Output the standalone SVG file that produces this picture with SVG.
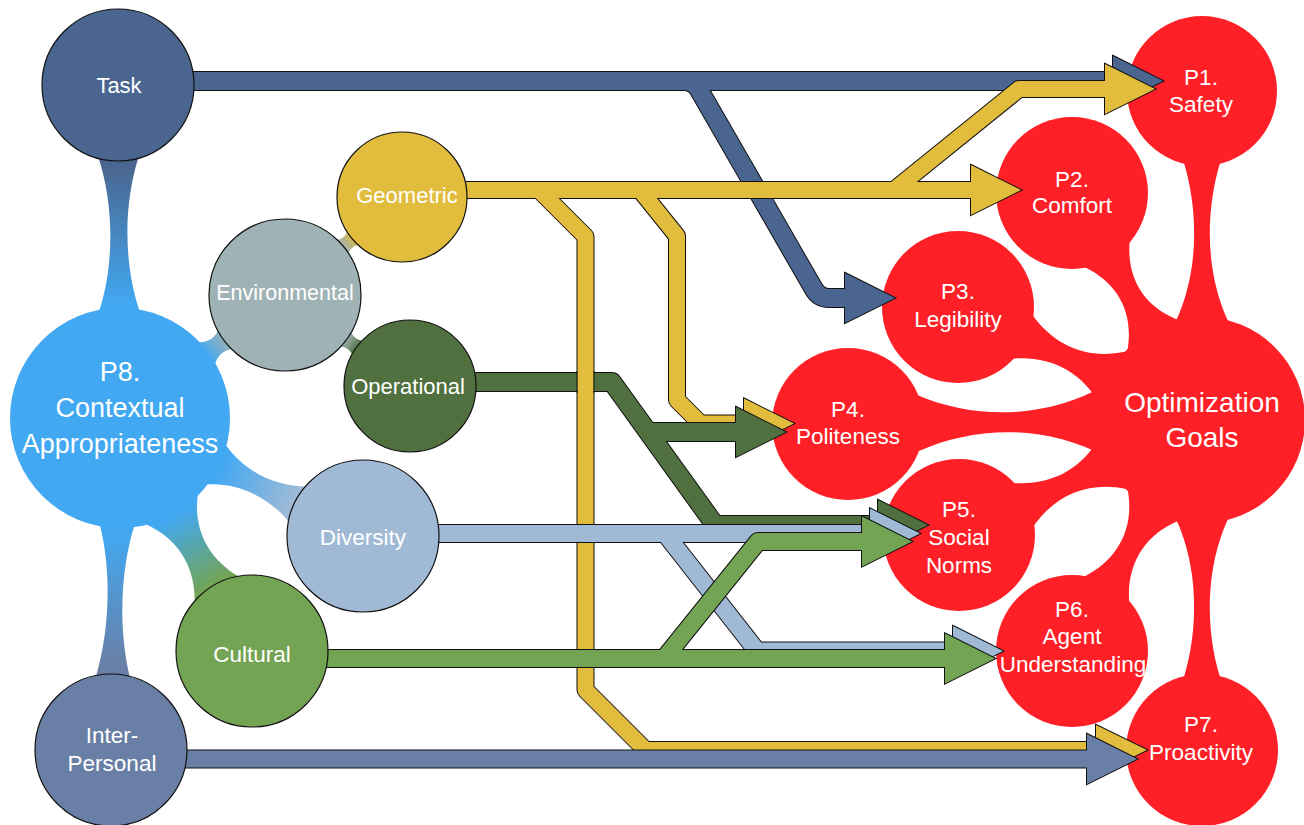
<svg xmlns="http://www.w3.org/2000/svg" width="1304" height="825" viewBox="0 0 1304 825">
<defs>
<style>
text { font-family: "Liberation Sans", Arial, sans-serif; fill: #ffffff; text-anchor: middle; }
.fs { font-size: 22.5px; }
.fm { font-size: 22px; }
.fe { font-size: 21.5px; }
.fb { font-size: 27px; }
.fo { font-size: 28px; }
.red { fill: #FE1F27; }
.src { stroke: #111111; stroke-width: 1.2; }
.ol { fill: none; stroke: #111111; stroke-linejoin: round; }
.ln { fill: none; stroke-linejoin: round; }
.ah { stroke: #111111; stroke-width: 2; stroke-linejoin: miter; }
</style>
<linearGradient id="gTask" gradientUnits="userSpaceOnUse" x1="80" y1="0" x2="220" y2="0"><stop offset="0" stop-color="#4A6690"/><stop offset="1" stop-color="#42A8F2"/></linearGradient>
<linearGradient id="gIP" gradientUnits="userSpaceOnUse" x1="80" y1="0" x2="220" y2="0"><stop offset="0" stop-color="#6A7FA5"/><stop offset="1" stop-color="#42A8F2"/></linearGradient>
<linearGradient id="gEnv" gradientUnits="userSpaceOnUse" x1="106" y1="0" x2="134" y2="0"><stop offset="0" stop-color="#42A8F2"/><stop offset="1" stop-color="#9FB2B5"/></linearGradient>
<linearGradient id="gDiv" gradientUnits="userSpaceOnUse" x1="112" y1="0" x2="194" y2="0"><stop offset="0" stop-color="#42A8F2"/><stop offset="1" stop-color="#A0BAD5"/></linearGradient>
<linearGradient id="gCul" gradientUnits="userSpaceOnUse" x1="112" y1="0" x2="192" y2="0"><stop offset="0" stop-color="#42A8F2"/><stop offset="1" stop-color="#73A454"/></linearGradient>
<linearGradient id="gGeo" gradientUnits="userSpaceOnUse" x1="75" y1="0" x2="89" y2="0"><stop offset="0" stop-color="#9FB2B5"/><stop offset="1" stop-color="#D8BA48"/></linearGradient>
<linearGradient id="gOps" gradientUnits="userSpaceOnUse" x1="75" y1="0" x2="90" y2="0"><stop offset="0" stop-color="#9FB2B5"/><stop offset="1" stop-color="#50703F"/></linearGradient>
</defs>
<rect x="0" y="0" width="1304" height="825" fill="#ffffff"/>

<g id="connectors-hub">
  <g id="links-optimization" class="red">
    <path transform="translate(1202,91) rotate(90)" d="M72,-18 C121,-3.3 181,-3.3 230,-26 L230,26 C181,3.3 121,3.3 72,18 Z"/>
    <path transform="translate(1202,750) rotate(-90)" d="M73,-18 C121,-3.3 182,-3.3 231,-26 L231,26 C182,3.3 121,3.3 73,18 Z"/>
    <path transform="translate(1072,193) rotate(60.2)" d="M70.5,-26 C101,-5.3 134,-5.3 164,-30 L164,30 C134,5.3 101,5.3 70.5,26 Z"/>
    <path transform="translate(958,307) rotate(24.8)" d="M71,-24 C103,-5.7 139,-5.7 171,-30 L171,30 C139,5.7 103,5.7 71,24 Z"/>
    <path transform="translate(848,424) rotate(-0.65)" d="M70,-28 C128,-2.7 199,-2.7 258,-36 L258,36 C199,2.7 128,2.7 70,28 Z"/>
    <path transform="translate(959,535) rotate(-25.3)" d="M71,-24 C103,-5.7 139,-5.7 171,-30 L171,30 C139,5.7 103,5.7 71,24 Z"/>
    <path transform="translate(1072,651) rotate(-60.6)" d="M70.5,-26 C101,-5.3 137,-5.3 167,-30 L167,30 C137,5.3 101,5.3 70.5,26 Z"/>
  </g>
  <g id="links-context">
    <path fill="url(#gTask)" transform="translate(118,85) rotate(89.66)" d="M72.5,-20 C120,-4.7 179,-4.7 225.5,-20 L225.5,20 C179,4.7 120,4.7 72.5,20 Z"/>
    <path fill="url(#gIP)" transform="translate(111,750) rotate(-88.45)" d="M73,-17 C120,-4.3 178,-4.3 224,-17 L224,17 C178,4.3 120,4.3 73,17 Z"/>
    <path fill="url(#gEnv)" transform="translate(120,418) rotate(-36.7)" d="M108,-14 C116,-7.7 124,-7.7 132,-12 L132,12 C124,7.7 116,7.7 108,14 Z"/>
    <path fill="url(#gDiv)" transform="translate(120,418) rotate(25.9)" d="M107,-22 C135,-6.3 169,-6.3 198,-20 L198,20 C169,6.3 135,6.3 107,22 Z"/>
    <path fill="url(#gCul)" transform="translate(120,418) rotate(60.5)" d="M105,-30 C134,-8 168,-8 197.5,-26 L197.5,26 C168,8 134,8 105,30 Z"/>
    <path fill="url(#gGeo)" transform="translate(285,295) rotate(-39.9)" d="M74.5,-10 C78,-6.1 84,-6.1 89,-9 L89,9 C84,6.1 78,6.1 74.5,10 Z"/>
    <path fill="url(#gOps)" transform="translate(285,295) rotate(36.05)" d="M74.5,-10 C78.5,-6 85.5,-6 90,-9 L90,9 C85.5,6 78.5,6 74.5,10 Z"/>
  </g>
</g>

<g id="node-optimization">
  <circle class="red" cx="1202" cy="420" r="103"/>
  <text class="fo" x="1202" y="412">Optimization</text>
  <text class="fo" x="1202" y="447">Goals</text>
</g>
<g id="node-p1">
  <circle class="red" cx="1202" cy="91" r="75"/>
  <text class="fs" x="1201" y="85">P1.</text>
  <text class="fs" x="1201" y="112">Safety</text>
</g>
<g id="node-p2">
  <circle class="red" cx="1072" cy="193" r="76"/>
  <text class="fs" x="1072" y="187">P2.</text>
  <text class="fs" x="1072" y="213">Comfort</text>
</g>
<g id="node-p3">
  <circle class="red" cx="958" cy="307" r="76"/>
  <text class="fs" x="958" y="299">P3.</text>
  <text class="fs" x="958" y="327">Legibility</text>
</g>
<g id="node-p4">
  <circle class="red" cx="848" cy="424" r="76"/>
  <text class="fs" x="848" y="417">P4.</text>
  <text class="fs" x="848" y="444">Politeness</text>
</g>
<g id="node-p5">
  <circle class="red" cx="959" cy="535" r="76"/>
  <text class="fs" x="959" y="517">P5.</text>
  <text class="fs" x="959" y="545">Social</text>
  <text class="fs" x="959" y="573">Norms</text>
</g>
<g id="node-p6">
  <circle class="red" cx="1072" cy="651" r="76"/>
  <text class="fs" x="1072" y="617">P6.</text>
  <text class="fs" x="1072" y="644">Agent</text>
  <text class="fs" x="1073" y="672">Understanding</text>
</g>
<g id="node-p7">
  <circle class="red" cx="1202" cy="750" r="76"/>
  <text class="fs" x="1201" y="732">P7.</text>
  <text class="fs" x="1201" y="760">Proactivity</text>
</g>
<g id="node-p8">
  <circle cx="120" cy="418" r="110" fill="#42A8F2"/>
  <text class="fb" x="120" y="381">P8.</text>
  <text class="fb" x="120" y="417">Contextual</text>
  <text class="fb" x="120" y="453">Appropriateness</text>
</g>

<g id="connectors-flows">
  <g id="flow-task">
    <path class="ol" stroke-width="20" d="M150,81 H1116 M660,81 H684 Q694,81 699,89.7 L814,289.3 Q819,298 829,298 H848"/>
    <polygon class="ah" fill="#111111" points="1113,56 1163,81 1113,106"/>
    <polygon class="ah" fill="#111111" points="845,273 895,298 845,323"/>
    <path class="ln" stroke="#4A6690" stroke-width="18" d="M150,81 H1116 M660,81 H684 Q694,81 699,89.7 L814,289.3 Q819,298 829,298 H848"/>
    <polygon fill="#4A6690" points="1113,56 1163,81 1113,106"/>
    <polygon fill="#4A6690" points="845,273 895,298 845,323"/>
  </g>
  <g id="flow-geometric">
    <path class="ol" stroke-width="18" d="M440,190 H974 M894,190 L1019,89 H1108 M539,190 L585.5,236.5 V690 L645.5,750 H1099 M640,190 L677,236 V400 L700.5,423.5 H747"/>
    <polygon class="ah" fill="#111111" points="971,165 1021,190 971,215"/>
    <polygon class="ah" fill="#111111" points="1105,64 1155,89 1105,114"/>
    <polygon class="ah" fill="#111111" points="1096,725 1147,750 1096,775"/>
    <polygon class="ah" fill="#111111" points="744,398.5 794,423.5 744,448.5"/>
    <path class="ln" stroke="#E2BC3C" stroke-width="16" d="M440,190 H974 M894,190 L1019,89 H1108 M539,190 L585.5,236.5 V690 L645.5,750 H1099 M640,190 L677,236 V400 L700.5,423.5 H747"/>
    <polygon fill="#E2BC3C" points="971,165 1021,190 971,215"/>
    <polygon fill="#E2BC3C" points="1105,64 1155,89 1105,114"/>
    <polygon fill="#E2BC3C" points="1096,725 1147,750 1096,775"/>
    <polygon fill="#E2BC3C" points="744,398.5 794,423.5 744,448.5"/>
  </g>
  <g id="flow-operational">
    <path class="ol" stroke-width="20" d="M440,382 H612 L715,525 H881 M648,432 H739"/>
    <polygon class="ah" fill="#111111" points="878,500 928,525 878,550"/>
    <polygon class="ah" fill="#111111" points="736,407 786,432 736,457"/>
    <path class="ln" stroke="#50703F" stroke-width="18" d="M440,382 H612 L715,525 H881 M648,432 H739"/>
    <polygon fill="#50703F" points="878,500 928,525 878,550"/>
    <polygon fill="#50703F" points="736,407 786,432 736,457"/>
  </g>
  <g id="flow-geometric-overpass">
    <rect x="577.5" y="371" width="16" height="22" fill="#E2BC3C"/>
    <path d="M577,371 V393 M594,371 V393" stroke="#111111" stroke-width="1"/>
  </g>
  <g id="flow-diversity">
    <path class="ol" stroke-width="19" d="M430,533.5 H873 M655,533.5 H665 L757,651 H956"/>
    <polygon class="ah" fill="#111111" points="870,508.5 920,533.5 870,558.5"/>
    <polygon class="ah" fill="#111111" points="953,626 1003,651 953,676"/>
    <path class="ln" stroke="#A0BAD5" stroke-width="17" d="M430,533.5 H873 M655,533.5 H665 L757,651 H956"/>
    <polygon fill="#A0BAD5" points="870,508.5 920,533.5 870,558.5"/>
    <polygon fill="#A0BAD5" points="953,626 1003,651 953,676"/>
  </g>
  <g id="flow-cultural">
    <path class="ol" stroke-width="19" d="M320,658.5 H948 M650,658.5 H664 L758,541.5 H865"/>
    <polygon class="ah" fill="#111111" points="945,633.5 995,658.5 945,683.5"/>
    <polygon class="ah" fill="#111111" points="862,516.5 912,541.5 862,566.5"/>
    <path class="ln" stroke="#73A454" stroke-width="17" d="M320,658.5 H948 M650,658.5 H664 L758,541.5 H865"/>
    <polygon fill="#73A454" points="945,633.5 995,658.5 945,683.5"/>
    <polygon fill="#73A454" points="862,516.5 912,541.5 862,566.5"/>
  </g>
  <g id="flow-interpersonal">
    <path class="ol" stroke-width="19" d="M180,759 H1090"/>
    <polygon class="ah" fill="#111111" points="1087,734 1137,759 1087,784"/>
    <path class="ln" stroke="#6A7FA5" stroke-width="17" d="M180,759 H1090"/>
    <polygon fill="#6A7FA5" points="1087,734 1137,759 1087,784"/>
  </g>
</g>

<g id="node-task">
  <circle class="src" cx="118" cy="85" r="76" fill="#4A6690"/>
  <text class="fm" x="119" y="93">Task</text>
</g>
<g id="node-interpersonal">
  <circle class="src" cx="111" cy="750" r="76" fill="#6A7FA5"/>
  <text class="fs" x="112" y="743">Inter-</text>
  <text class="fs" x="112" y="771">Personal</text>
</g>
<g id="node-environmental">
  <circle class="src" cx="285" cy="295" r="76" fill="#9FB2B5"/>
  <text class="fe" x="285" y="300">Environmental</text>
</g>
<g id="node-geometric">
  <circle class="src" cx="402" cy="197" r="65" fill="#E2BC3C"/>
  <text class="fm" x="407" y="203">Geometric</text>
</g>
<g id="node-operational">
  <circle class="src" cx="410" cy="386" r="66" fill="#50703F"/>
  <text class="fm" x="408" y="394">Operational</text>
</g>
<g id="node-diversity">
  <circle class="src" cx="363" cy="536" r="76" fill="#A0BAD5"/>
  <text class="fs" x="363" y="545">Diversity</text>
</g>
<g id="node-cultural">
  <circle class="src" cx="252" cy="651" r="76" fill="#73A454"/>
  <text class="fs" x="252" y="662">Cultural</text>
</g>
</svg>
